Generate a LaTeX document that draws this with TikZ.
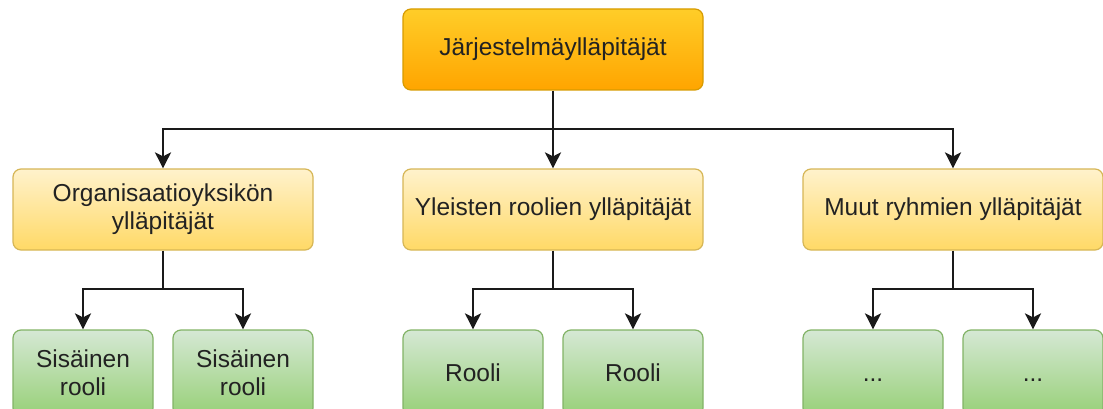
\documentclass[tikz,border=0pt]{standalone}
\usepackage{fontspec}
\setmainfont{Liberation Sans}
\usetikzlibrary{arrows.meta}

\definecolor{topFill}{HTML}{FFCD28}
\definecolor{topGrad}{HTML}{FFA500}
\definecolor{topLine}{HTML}{D79B00}
\definecolor{midFill}{HTML}{FFF2CC}
\definecolor{midGrad}{HTML}{FFD966}
\definecolor{midLine}{HTML}{D6B656}
\definecolor{leafFill}{HTML}{D5E8D4}
\definecolor{leafGrad}{HTML}{97D077}
\definecolor{leafLine}{HTML}{82B366}
\definecolor{wire}{HTML}{1A1A1A}
\definecolor{label}{HTML}{222222}

\begin{document}
\begin{tikzpicture}[x=1pt,y=-1pt,
  box/.style={rounded corners=8pt, line width=1.2pt, inner sep=0pt, align=center,
    font=\fontsize{24.5}{28}\selectfont, text=label},
  topbox/.style={box, draw=topLine, top color=topFill, bottom color=topGrad,
    minimum width=300pt, minimum height=81pt},
  midbox/.style={box, draw=midLine, top color=midFill, bottom color=midGrad,
    minimum width=300pt, minimum height=81pt},
  leafbox/.style={box, draw=leafLine, top color=leafFill, bottom color=leafGrad,
    minimum width=140pt, minimum height=86pt},
  wire/.style={draw=wire, line width=2.2pt},
  arrowwire/.style={wire, -{Stealth[length=16pt, width=16pt, inset=4pt]}}
]
\useasboundingbox (0,0) rectangle (1103,409);

% root
\node[topbox] (root) at (553,49.5) {Järjestelmäylläpitäjät};

% second level
\node[midbox] (org)  at (163,209.5) {Organisaatioyksikön\\ylläpitäjät};
\node[midbox] (gen)  at (553,209.5) {Yleisten roolien ylläpitäjät};
\node[midbox] (oth)  at (953,209.5) {Muut ryhmien ylläpitäjät};

% leaves
\node[leafbox] (org1) at (83,373)   {Sisäinen\\rooli};
\node[leafbox] (org2) at (243,373)  {Sisäinen\\rooli};
\node[leafbox] (gen1) at (473,373)  {Rooli};
\node[leafbox] (gen2) at (633,373)  {Rooli};
\node[leafbox] (oth1) at (873,373)  {\vphantom{Rooli}...};
\node[leafbox] (oth2) at (1033,373) {\vphantom{Rooli}...};

% junction points of the connectors
\coordinate (jr) at (553,129);
\coordinate (jo) at (163,289);
\coordinate (jg) at (553,289);
\coordinate (jt) at (953,289);

% root to second level
\draw[wire] (root.south) -- (jr);
\draw[arrowwire] (jr) -| (org.north);
\draw[arrowwire] (jr) -- (gen.north);
\draw[arrowwire] (jr) -| (oth.north);

% second level to leaves
\draw[wire] (org.south) -- (jo);
\draw[arrowwire] (jo) -| (org1.north);
\draw[arrowwire] (jo) -| (org2.north);

\draw[wire] (gen.south) -- (jg);
\draw[arrowwire] (jg) -| (gen1.north);
\draw[arrowwire] (jg) -| (gen2.north);

\draw[wire] (oth.south) -- (jt);
\draw[arrowwire] (jt) -| (oth1.north);
\draw[arrowwire] (jt) -| (oth2.north);
\end{tikzpicture}
\end{document}
